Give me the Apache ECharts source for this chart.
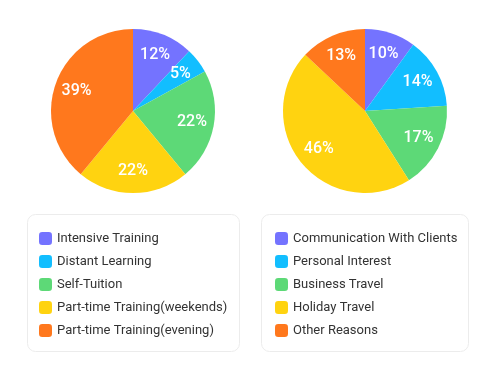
<!DOCTYPE html>
<html><head><meta charset="utf-8">
<script src="https://cdn.jsdelivr.net/npm/echarts@6/dist/echarts.min.js"></script>
<style>html,body{margin:0;padding:0;background:#fff}#c{width:497px;height:388px}</style>
</head><body><div id="c"></div>
<script>
const colors = ['#7473FF', '#12BEFF', '#5DD977', '#FFD310', '#FF781D'];
const leftNames = ['Intensive Training', 'Distant Learning', 'Self-Tuition', 'Part-time Training(weekends)', 'Part-time Training(evening)'];
const leftValues = [12, 5, 22, 22, 39];
const rightNames = ['Communication With Clients', 'Personal Interest', 'Business Travel', 'Holiday Travel', 'Other Reasons'];
const rightValues = [10, 14, 17, 46, 13];

const font = 'Roboto, "Noto Sans", sans-serif';
function mk(names, vals, transparent) {
  return names.map((n, i) => ({ name: n, value: vals[i], itemStyle: { color: transparent ? 'rgba(0,0,0,0)' : colors[i] } }));
}
function pies(names, vals, cx) {
  return [
    { type: 'pie', center: [cx, 111], radius: [0, 82], data: mk(names, vals, false), label: { show: false }, labelLine: { show: false }, silent: true, animation: false },
    { type: 'pie', center: [cx, 111], radius: [32, 82], data: mk(names, vals, true), silent: true, animation: false, legendHoverLink: false,
      label: { show: true, position: 'inside', formatter: '{c}%', color: '#fff', fontSize: 16, fontWeight: 500, fontFamily: font }, labelLine: { show: false } }
  ];
}
const chart = echarts.init(document.getElementById('c'), null, { renderer: 'canvas' });
const legendCommon = { orient: 'vertical', icon: 'roundRect', itemWidth: 13, itemHeight: 13, itemGap: 10, selectedMode: false,
  textStyle: { fontSize: 13, color: '#333', fontFamily: font }, padding: 0 };
function legendData(names) { return names.map((n, i) => ({ name: n, itemStyle: { color: colors[i] } })); }
chart.setOption({
  animation: false,
  graphic: [
    { type: 'rect', shape: { x: 27.5, y: 214.5, width: 212, height: 137, r: 8 }, style: { fill: '#fff', stroke: '#ececec', lineWidth: 1 }, z: -1 },
    { type: 'rect', shape: { x: 261.5, y: 214.5, width: 207, height: 137, r: 8 }, style: { fill: '#fff', stroke: '#ececec', lineWidth: 1 }, z: -1 }
  ],
  legend: [
    Object.assign({}, legendCommon, { left: 39, top: 232, data: legendData(leftNames) }),
    Object.assign({}, legendCommon, { left: 275, top: 232, data: legendData(rightNames) })
  ],
  series: [].concat(pies(leftNames, leftValues, 133), pies(rightNames, rightValues, 365))
});
</script></body></html>
